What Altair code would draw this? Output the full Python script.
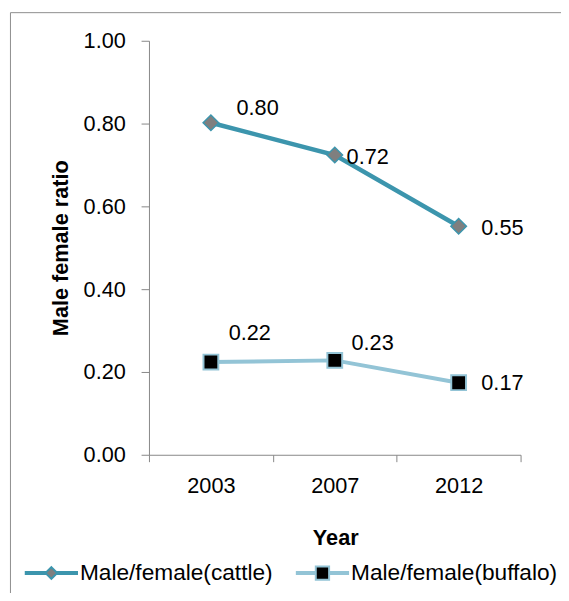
import altair as alt
import pandas as pd

# ---- data ----
years = ["2003", "2007", "2012"]
series_names = ["Male/female(cattle)", "Male/female(buffalo)"]
cattle = [0.802, 0.724, 0.552]
buffalo = [0.224, 0.228, 0.174]
y_ticks = [0.0, 0.2, 0.4, 0.6, 0.8, 1.0]

rows = []
for s, vals in zip(series_names, [cattle, buffalo]):
    for yr, v in zip(years, vals):
        rows.append({"year": yr, "series": s, "value": v})
df = pd.DataFrame(rows)

# ---- styles ----
FONT = "Liberation Sans"
AXIS_GRAY = "#868686"
line_colors = ["#3C95AD", "#93C4D6"]
line_widths = [4.5, 4]
marker_fill = ["#7F7F7F", "#000000"]
marker_shape = ["diamond", "square"]
marker_size = [250, 225]
marker_stroke_w = [1.5, 2]
legend_paths = [
    "M-1,-0.04H-0.23V0.04H-1Z M0.23,-0.04H1V0.04H0.23Z M0,-0.23L0.23,0L0,0.23L-0.23,0Z",
    "M-1,-0.04H-0.26V0.04H-1Z M0.26,-0.04H1V0.04H0.26Z M-0.26,-0.26H0.26V0.26H-0.26Z",
]
# per-label offsets (dx, dy) in pixels, as placed in the reference
label_offsets = [
    [(26, -15), (12, 2), (23, 2)],
    [(18, -29), (17, -18), (23, 0)],
]

x_enc = alt.X(
    "year:O",
    sort=years,
    bandPosition=0.5,
    scale=alt.Scale(type="band", domain=years, paddingInner=0, paddingOuter=0),
    axis=alt.Axis(
        title="Year",
        titleFont=FONT, titleFontSize=22, titleFontWeight="bold", titleColor="black",
        titleBaseline="alphabetic", titleX=189, titleY=91,
        labelAngle=0, labelFont=FONT, labelFontSize=22, labelColor="black",
        labelBaseline="alphabetic", labelPadding=31,
        tickSize=7, tickColor=AXIS_GRAY, domainColor=AXIS_GRAY,
        tickBand="extent", grid=False,
    ),
)
y_enc = alt.Y(
    "value:Q",
    scale=alt.Scale(domain=[0, 1], nice=False, zero=True),
    axis=alt.Axis(
        title="Male female ratio",
        values=y_ticks, format=".2f",
        labelFont=FONT, labelFontSize=22, labelColor="black", labelPadding=16,
        tickSize=8, tickColor=AXIS_GRAY, domainColor=AXIS_GRAY, grid=False,
        titleFont=FONT, titleFontSize=22, titleFontWeight="bold", titleColor="black",
        titleAngle=270, titleBaseline="alphabetic", titleAlign="center",
        titleX=-83, titleY=210,
    ),
)

base = alt.Chart(df)
one = alt.Data(values=[{"a": 1}])

# chart-area border (left and top edges visible in the reference)
frame_left = alt.Chart(one).mark_rule(color="#8C8C8C", strokeWidth=1).encode(
    x=alt.value(-140.5), y=alt.value(-28.5), y2=alt.value(900)
)
frame_top = alt.Chart(one).mark_rule(color="#8C8C8C", strokeWidth=1).encode(
    x=alt.value(-140.5), x2=alt.value(900), y=alt.value(-28.5)
)

layers = [frame_left, frame_top]
for i, s in enumerate(series_names):
    layers.append(
        base.transform_filter(alt.datum.series == s)
        .mark_line(color=line_colors[i], strokeWidth=line_widths[i])
        .encode(x=x_enc, y=y_enc)
    )
for i, s in enumerate(series_names):
    layers.append(
        base.transform_filter(alt.datum.series == s)
        .mark_point(
            shape=marker_shape[i], size=marker_size[i], filled=True, opacity=1,
            fill=marker_fill[i], stroke=line_colors[i], strokeWidth=marker_stroke_w[i],
        )
        .encode(x=x_enc, y=y_enc)
    )
for i, s in enumerate(series_names):
    for j, yr in enumerate(years):
        dx, dy = label_offsets[i][j]
        layers.append(
            base.transform_filter((alt.datum.series == s) & (alt.datum.year == yr))
            .mark_text(align="left", baseline="middle", dx=dx, dy=dy,
                       font=FONT, fontSize=22, color="black")
            .encode(x=x_enc, y=y_enc, text=alt.Text("value:Q", format=".2f"))
        )

leg = alt.Legend(
    title=None, orient="none", legendX=-126, legendY=513, direction="horizontal",
    symbolSize=2704, symbolStrokeWidth=2, symbolOpacity=1,
    labelFont=FONT, labelFontSize=23, labelColor="black", labelOffset=2,
    labelLimit=400, columnPadding=20, padding=0, offset=0,
)
legend_layer = (
    base.transform_filter("false")
    .mark_point(filled=True, opacity=1, strokeWidth=2)
    .encode(
        shape=alt.Shape("series:N", scale=alt.Scale(domain=series_names, range=legend_paths), legend=leg),
        fill=alt.Fill("series:N", scale=alt.Scale(domain=series_names, range=marker_fill), legend=leg),
        stroke=alt.Stroke("series:N", scale=alt.Scale(domain=series_names, range=line_colors), legend=leg),
    )
)
layers.append(legend_layer)

chart = (
    alt.layer(*layers)
    .properties(
        width=377, height=420,
        padding={"left": 143, "top": 29, "right": 41, "bottom": 136},
        autosize=alt.AutoSizeParams(type="none"),
        background="white",
    )
    .configure_view(stroke="transparent")
)

chart.save("out.html", embed_options={"renderer": "svg", "actions": False})
